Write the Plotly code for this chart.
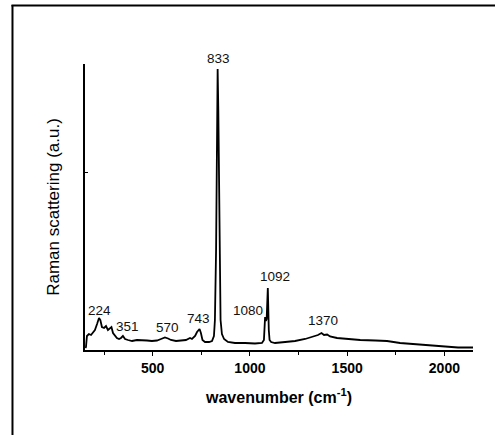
import plotly.graph_objects as go

# Raman spectrum (wavenumber cm-1, intensity a.u.)
wavenumber = [154, 157, 162, 172, 183, 193, 203, 214, 224, 231, 239, 250, 260, 270, 280, 288,
              296, 306, 316, 327, 337, 347, 358, 373, 394, 419, 445, 471, 496, 522, 543, 563,
              579, 594, 620, 646, 671, 692, 702, 718, 728, 741, 748, 756, 769, 790, 805, 815,
              820, 826, 831, 834, 837.5, 843, 849, 856, 867, 887, 923, 975, 1026, 1062, 1072,
              1078, 1082, 1086, 1092, 1097, 1101, 1109, 1129, 1181, 1232, 1284, 1319, 1350,
              1368, 1381, 1397, 1412, 1448, 1500, 1567, 1644, 1705, 1772, 1849, 1926, 1998,
              2070, 2148]
intensity = [20, 30, 140, 160, 150, 170, 200, 260, 320, 300, 230, 220, 240, 200, 220, 230,
             170, 140, 120, 110, 120, 140, 110, 100, 90, 100, 100, 95, 90, 95, 110, 125,
             115, 100, 90, 95, 100, 120, 110, 140, 180, 210, 170, 100, 80, 80, 90, 140,
             300, 1000, 2400, 2810, 2400, 1000, 300, 160, 110, 80, 70, 70, 65, 70, 100,
             330, 290, 310, 620, 200, 100, 80, 70, 80, 90, 110, 130, 150,
             170, 150, 155, 135, 120, 110, 100, 95, 90, 70, 60, 50, 35,
             25, 25]

# Peak labels: text, wavenumber position, label centre height (a.u.)
peak_labels = ["224", "351", "570", "743", "833", "1080", "1092", "1370"]
peak_label_x = [224, 368, 578, 733, 836, 990, 1128, 1376]
peak_label_y = [400, 240, 230, 320, 2920, 400, 740, 300]

x_major = [500, 1000, 1500, 2000]
y_tick = [1780]

FONT = "Liberation Sans, Arial, sans-serif"
Y_TOP = 2860

fig = go.Figure()
fig.add_trace(go.Scatter(x=wavenumber, y=intensity, mode="lines",
                         line=dict(color="black", width=1.8), showlegend=False,
                         hoverinfo="skip"))

for t, lx, ly in zip(peak_labels, peak_label_x, peak_label_y):
    ys = 0
    yy = ly
    if ly > Y_TOP - 10:
        yy = max(intensity)
        ys = (ly - yy) / 10  # 10 a.u. per pixel
    fig.add_annotation(x=lx, y=yy, text=t, showarrow=False, yshift=ys,
                       xanchor="center", yanchor="middle",
                       font=dict(family=FONT, size=13.5, color="#111"))

fig.update_layout(
    width=495, height=435,
    margin=dict(l=85, r=22, t=64, b=85),
    paper_bgcolor="white", plot_bgcolor="white",
    font=dict(family=FONT, color="black"),
    xaxis=dict(range=[152, 2147], showgrid=False, zeroline=False,
               showline=True, linecolor="black", linewidth=1.5,
               tickmode="array", tickvals=x_major, ticktext=[f"<b>{v}</b>" for v in x_major],
               ticks="outside", ticklen=4, tickwidth=1.2, tickcolor="black",
               tickfont=dict(family=FONT, size=14, color="black"),
               minor=dict(dtick=250, tick0=0, ticks="outside", ticklen=3,
                          tickwidth=1, tickcolor="black", showgrid=False),
               title=dict(text="<b>wavenumber (cm<sup>-1</sup>)</b>",
                          font=dict(family=FONT, size=16, color="black"), standoff=17)),
    yaxis=dict(range=[0, Y_TOP], showgrid=False, zeroline=False,
               showline=True, linecolor="black", linewidth=1.5,
               tickmode="array", tickvals=y_tick, showticklabels=False,
               ticks="inside", ticklen=3, tickwidth=1, tickcolor="black",
               title=dict(text="Raman scattering (a.u.)",
                          font=dict(family=FONT, size=17, color="black"), standoff=19)),
    shapes=[
        dict(type="line", xref="paper", yref="paper", x0=-0.1869, x1=-0.1869,
             y0=-0.32, y1=1.2063, line=dict(color="black", width=2)),
        dict(type="line", xref="paper", yref="paper", x0=-0.1895, x1=1.08,
             y0=1.2045, y1=1.2045, line=dict(color="black", width=2)),
    ],
)

fig.write_html("out.html")
